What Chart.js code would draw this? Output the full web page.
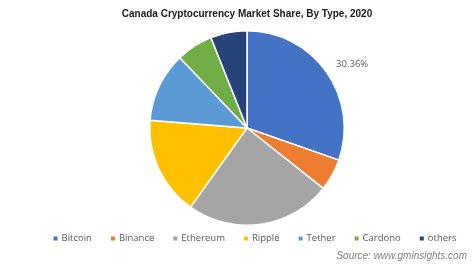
<!DOCTYPE html>
<html>
<head>
<meta charset="utf-8">
<script src="https://cdn.jsdelivr.net/npm/chart.js@4/dist/chart.umd.min.js"></script>
<style>
html,body{margin:0;padding:0;background:#fff;}
#wrap{width:474px;height:264px;position:relative;}
</style>
</head>
<body>
<div id="wrap"><canvas id="c" width="474" height="264"></canvas></div>
<script>
const titleText = 'Canada Cryptocurrency Market Share, By Type, 2020';
const categories = ['Bitcoin', 'Binance', 'Ethereum', 'Ripple', 'Tether', 'Cardono', 'others'];
const shares = [30.36, 5.3, 24.2, 16.4, 11.6, 6.1, 6.04];
const labelledIndex = [0];
const sourceText = 'Source: www.gminsights.com';
const colors = ['#4472C4', '#ED7D31', '#A5A5A5', '#FFC000', '#5B9BD5', '#70AD47', '#264478'];

const extras = {
  id: 'extras',
  afterDraw(chart) {
    const ctx = chart.ctx;
    const meta = chart.getDatasetMeta(0);
    ctx.save();
    // data label
    ctx.font = '9.5px "Open Sans"';
    ctx.fillStyle = '#595959';
    ctx.textBaseline = 'middle';
    ctx.textAlign = 'left';
    labelledIndex.forEach(i => {
      const arc = meta.data[i];
      const mid = (arc.startAngle + arc.endAngle) / 2;
      const d = arc.outerRadius + 12;
      ctx.fillText(shares[i].toFixed(2) + '%', arc.x + Math.cos(mid) * d, arc.y + Math.sin(mid) * d);
    });
    // legend
    ctx.font = '9.5px "Open Sans"';
    const box = 4, gapBT = 4, gapItem = 19;
    const widths = categories.map(c => box + gapBT + ctx.measureText(c).width);
    const total = widths.reduce((a, b) => a + b, 0) + gapItem * (categories.length - 1);
    let x = 255 - total / 2;
    const y = 238.5;
    categories.forEach((c, i) => {
      ctx.fillStyle = colors[i];
      ctx.fillRect(x, y - box / 2, box, box);
      ctx.fillStyle = '#595959';
      ctx.fillText(c, x + box + gapBT, y);
      x += widths[i] + gapItem;
    });
    // source
    ctx.font = 'italic 10px "Liberation Sans"';
    ctx.fillStyle = '#808080';
    ctx.textAlign = 'right';
    ctx.fillText(sourceText, 467, 256.5);
    ctx.restore();
  }
};

new Chart(document.getElementById('c'), {
  type: 'pie',
  data: {
    labels: categories,
    datasets: [{
      data: shares,
      backgroundColor: colors,
      borderColor: '#ffffff',
      borderWidth: 1.5
    }]
  },
  options: {
    responsive: false,
    animation: false,
    layout: { padding: { left: 20, right: 0, top: 0, bottom: 38 } },
    plugins: {
      legend: { display: false },
      tooltip: { enabled: false },
      title: {
        display: true,
        text: titleText,
        color: '#1a1a1a',
        font: { family: '"Liberation Sans"', size: 10, weight: 'bold' },
        padding: { top: 8, bottom: 10 }
      }
    }
  },
  plugins: [extras]
});
</script>
</body>
</html>
